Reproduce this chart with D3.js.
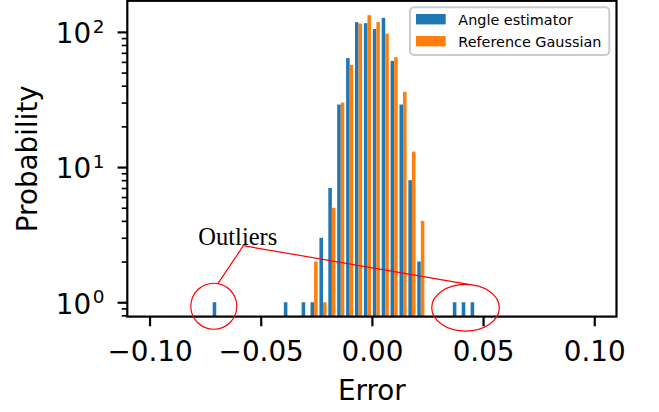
<!DOCTYPE html>
<html>
<head>
<meta charset="utf-8">
<script src="https://cdn.jsdelivr.net/npm/d3@7"></script>
<style>
  body { margin: 0; background: #fff; }
  svg { display: block; font-family: 'DejaVu Sans', sans-serif; }
</style>
</head>
<body>
<svg id="chart" width="659" height="412"></svg>
<script>
// histogram bins (left edge of each non-empty bin) and counts per series
const binWidth = 0.004;
const binLefts = [-0.072, -0.040, -0.032, -0.028, -0.024, -0.020, -0.016, -0.012, -0.008,
  -0.004, 0.000, 0.004, 0.008, 0.012, 0.016, 0.020, 0.036, 0.040, 0.044];
const angleEstimator = [1, 1, 1, 1, 3, 7, 29, 64, 118, 116, 105, 127, 61, 29, 8, 2, 1, 1, 1];
const referenceGaussian = [0, 0, 0, 2, 1, 5, 30, 57, 115, 133, 118, 97, 65, 36, 13, 4, 0, 0, 0];
const seriesNames = ['Angle estimator', 'Reference Gaussian'];
const xTicks = [-0.10, -0.05, 0.00, 0.05, 0.10];
const yTicks = [1, 10, 100];
const yMinorTicks = [0.8, 0.9, 2, 3, 4, 5, 6, 7, 8, 9, 20, 30, 40, 50, 60, 70, 80, 90];

// annotation anchors (data coords)
const noteText = { x: -0.0603, y: 2.65, label: 'Outliers' };
const noteFrom = { x: -0.0578, y: 2.62 };
const noteTargets = [
  { x: -0.0694, y: 1.36, cx: -0.0711, cy: 0.934, rx: 23, ry: 23 },
  { x: 0.0441, y: 1.35, cx: 0.0421, cy: 0.911, rx: 33.8, ry: 23.4 }
];

const colors = ['#1f77b4', '#ff7f0e'];
const svg = d3.select('#chart');
const pLeft = 127.3, pRight = 616.5, pTop = 0.8, pBottom = 316.6;
const lw = 2.2, majorLen = 9.7, minorLen = 5.6, fs = 27.8;

var x = d3.scaleLinear().domain([-0.11, 0.11]).range([pLeft, pRight]);
// matplotlib-like 5% log margin around [1, max]
var maxCount = d3.max(angleEstimator.concat(referenceGaussian));
var lmax = Math.log10(maxCount), pad = lmax * 0.05;
var y = d3.scaleLog().domain([Math.pow(10, -pad), Math.pow(10, lmax + pad)]).range([pBottom, pTop]);

// bars
var plot = svg.append('g');
[angleEstimator, referenceGaussian].forEach(function (vals, si) {
  plot.selectAll('rect.s' + si)
    .data(binLefts.map(function (b, i) { return { b: b, v: vals[i] }; }).filter(function (d) { return d.v > 0; }))
    .enter().append('rect')
    .attr('x', function (d) { return x(d.b + binWidth * (0.1 + 0.4 * si)); })
    .attr('width', function (d) { return x(d.b + binWidth * 0.4) - x(d.b); })
    .attr('y', function (d) { return y(d.v); })
    .attr('height', function (d) { return pBottom - y(d.v); })
    .attr('fill', colors[si]);
});

// x axis
var xAxis = svg.append('g').attr('transform', 'translate(0,' + pBottom + ')')
  .call(d3.axisBottom(x).tickValues(xTicks).tickSize(majorLen)
    .tickFormat(function (d) { return d3.format('.2f')(d).replace('-', '\u2212'); }));
xAxis.select('.domain').remove();
xAxis.selectAll('line').attr('stroke', '#000').attr('stroke-width', lw);
xAxis.selectAll('text').attr('y', 44).attr('dy', 0)
  .style('font-size', fs + 'px').style('font-family', 'DejaVu Sans').attr('fill', '#000');

// y axis (log): minor ticks then major ticks with 10^n labels
var yMinor = svg.append('g').attr('transform', 'translate(' + pLeft + ',0)')
  .call(d3.axisLeft(y).tickValues(yMinorTicks).tickSize(minorLen).tickFormat(''));
yMinor.select('.domain').remove();
yMinor.selectAll('line').attr('stroke', '#000').attr('stroke-width', lw * 0.75);

var yAxis = svg.append('g').attr('transform', 'translate(' + pLeft + ',0)')
  .call(d3.axisLeft(y).tickValues(yTicks).tickSize(majorLen).tickFormat(''));
yAxis.select('.domain').remove();
yAxis.selectAll('line').attr('stroke', '#000').attr('stroke-width', lw);
yAxis.selectAll('.tick').each(function (d) {
  var t = d3.select(this).append('text')
    .attr('x', -22.8).attr('y', 10.8).attr('dy', 0)
    .attr('text-anchor', 'end').attr('fill', '#000')
    .style('font-size', fs + 'px').style('font-family', 'DejaVu Sans');
  t.append('tspan').text('10');
  t.append('tspan').attr('dx', 1.5).attr('dy', -10.4).style('font-size', '18.5px')
    .text(Math.round(Math.log10(d)));
});

// frame
svg.append('rect').attr('x', pLeft).attr('y', pTop)
  .attr('width', pRight - pLeft).attr('height', pBottom - pTop)
  .attr('fill', 'none').attr('stroke', '#000').attr('stroke-width', lw);

// axis labels
svg.append('text').attr('x', (pLeft + pRight) / 2).attr('y', 400)
  .attr('text-anchor', 'middle').style('font-size', fs + 'px').text('Error');
svg.append('text')
  .attr('transform', 'translate(37,' + (pTop + pBottom) / 2 + ') rotate(-90)')
  .attr('text-anchor', 'middle').style('font-size', fs + 'px').text('Probability');

// annotation
var note = svg.append('g').attr('fill', 'none').attr('stroke', 'red').attr('stroke-width', 1.2);
noteTargets.forEach(function (t) {
  note.append('line')
    .attr('x1', x(noteFrom.x)).attr('y1', y(noteFrom.y))
    .attr('x2', x(t.x)).attr('y2', y(t.y));
  note.append('ellipse')
    .attr('cx', x(t.cx)).attr('cy', y(t.cy)).attr('rx', t.rx).attr('ry', t.ry);
});
svg.append('text').attr('x', x(noteText.x)).attr('y', y(noteText.y))
  .attr('text-anchor', 'middle')
  .style('font-family', "'Liberation Serif', serif").style('font-size', '24.5px')
  .text(noteText.label);

// legend
var legend = svg.append('g');
legend.append('rect').attr('x', 410).attr('y', 7.3).attr('width', 199.3).attr('height', 47.7)
  .attr('rx', 4).attr('fill', 'rgba(255,255,255,0.8)')
  .attr('stroke', '#cccccc').attr('stroke-width', 2);
seriesNames.forEach(function (name, i) {
  legend.append('rect').attr('x', 416).attr('y', 14 + i * 22)
    .attr('width', 29.7).attr('height', 10.4).attr('fill', colors[i]);
  legend.append('text').attr('x', 458.3).attr('y', 24.5 + i * 22)
    .style('font-size', '14.4px').attr('fill', '#000').text(name);
});
</script>
</body>
</html>
